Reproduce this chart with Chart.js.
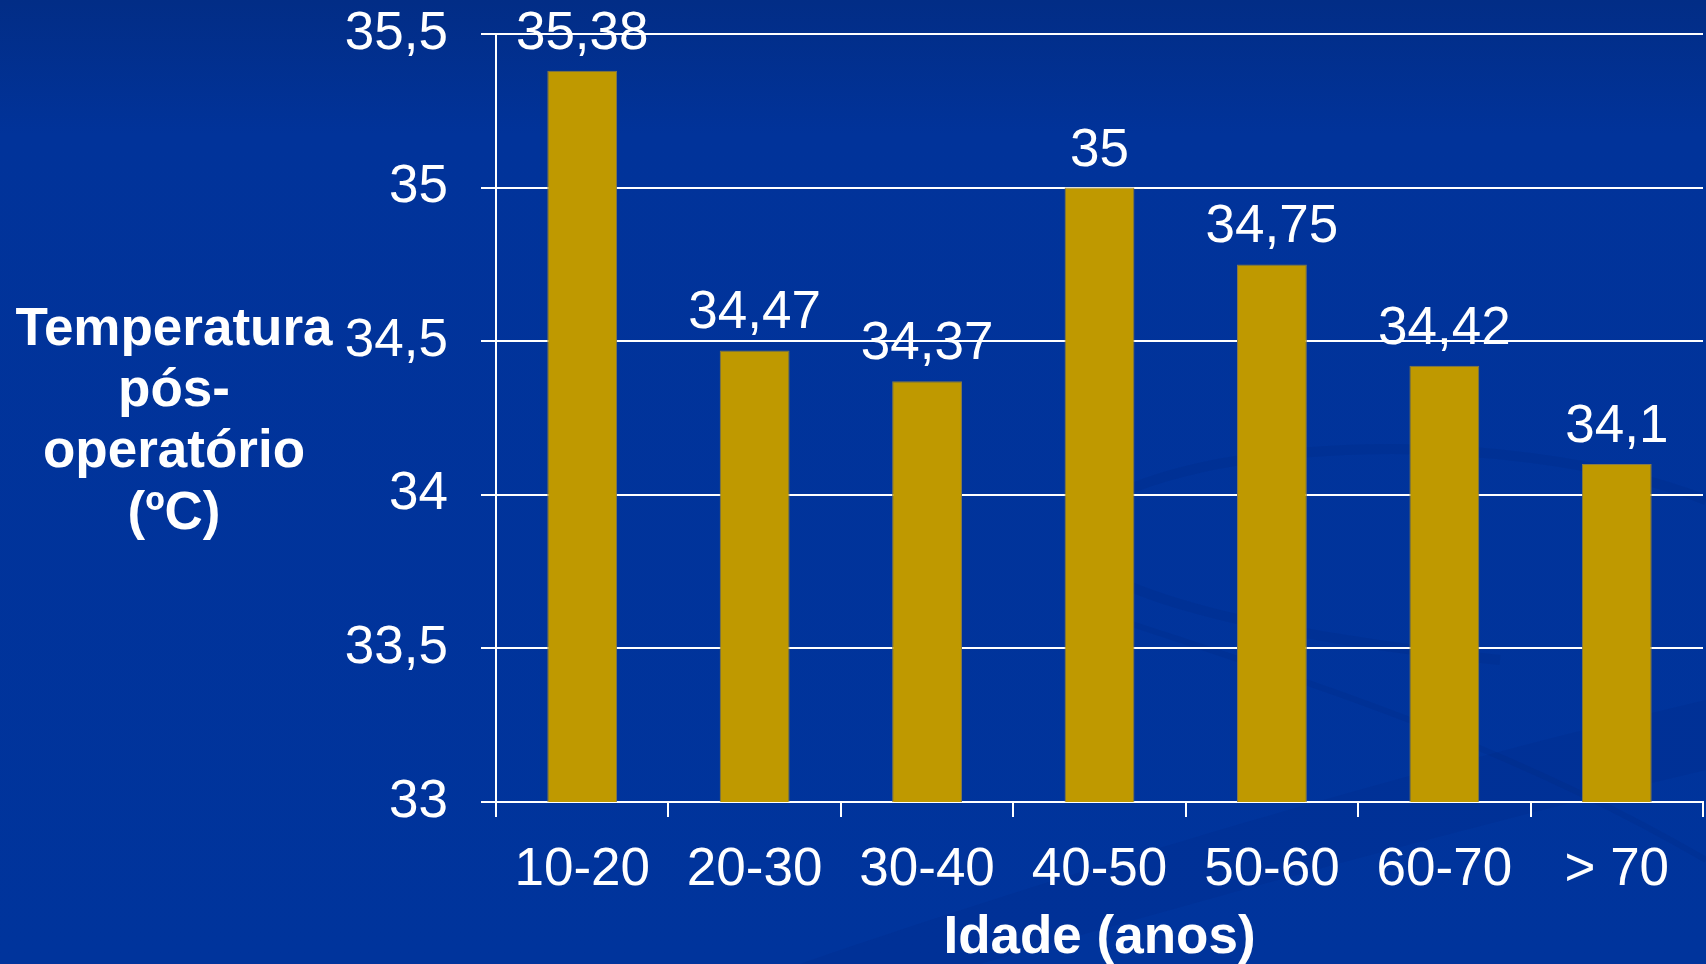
<!DOCTYPE html>
<html lang="pt">
<head>
<meta charset="utf-8">
<title>Temperatura pós-operatório por idade</title>
<script src="https://cdn.jsdelivr.net/npm/chart.js@4.4.1/dist/chart.umd.min.js"></script>
<style>
  html, body { margin: 0; padding: 0; background: #00339b; }
  #wrap { width: 1706px; height: 964px; position: relative; }
  canvas { display: block; }
</style>
</head>
<body>
<div id="wrap"><canvas id="chart" width="1706" height="964"></canvas></div>
<script>
// Age groups and mean post-operative temperature (ºC)
const categories = ['10-20', '20-30', '30-40', '40-50', '50-60', '60-70', '> 70'];
const temperatures = [35.38, 34.47, 34.37, 35, 34.75, 34.42, 34.1];
const yTickValues = [33, 33.5, 34, 34.5, 35, 35.5];
const yTitleLines = ['Temperatura', 'pós-', 'operatório', '(ºC)'];
const xTitle = 'Idade (anos)';

const FONT = '"Liberation Sans", Arial, Helvetica, sans-serif';
const WHITE = '#ffffff';

const fmt = v => String(v).replace('.', ',');

// Slide background: deep blue with darker top and faint swirl bands
const backgroundPlugin = {
  id: 'slideBackground',
  beforeDraw(chart) {
    const { ctx, width, height } = chart;
    ctx.save();
    const g = ctx.createLinearGradient(0, 0, 0, height);
    g.addColorStop(0, '#022d86');
    g.addColorStop(0.14, '#01339a');
    g.addColorStop(1, '#00349c');
    ctx.fillStyle = g;
    ctx.fillRect(0, 0, width, height);

    ctx.fillStyle = 'rgba(0, 30, 110, 0.10)';
    ctx.beginPath();
    ctx.moveTo(800, 964);
    ctx.bezierCurveTo(1100, 860, 1450, 760, 1706, 700);
    ctx.lineTo(1706, 770);
    ctx.bezierCurveTo(1450, 830, 1150, 915, 980, 964);
    ctx.closePath();
    ctx.fill();

    ctx.strokeStyle = 'rgba(0, 30, 110, 0.12)';
    ctx.lineWidth = 10;
    ctx.beginPath();
    ctx.moveTo(1706, 500);
    ctx.bezierCurveTo(1500, 420, 1160, 440, 1080, 520);
    ctx.bezierCurveTo(1030, 590, 1300, 640, 1500, 660);
    ctx.stroke();

    ctx.lineWidth = 6;
    ctx.beginPath();
    ctx.moveTo(1120, 620);
    ctx.bezierCurveTo(1300, 680, 1500, 740, 1706, 860);
    ctx.stroke();
    ctx.restore();
  }
};

// Value labels above each bar
const valueLabelPlugin = {
  id: 'valueLabels',
  afterDatasetsDraw(chart) {
    const { ctx } = chart;
    const meta = chart.getDatasetMeta(0);
    ctx.save();
    ctx.font = '53px ' + FONT;
    ctx.fillStyle = WHITE;
    ctx.textAlign = 'center';
    ctx.textBaseline = 'alphabetic';
    meta.data.forEach((bar, i) => {
      ctx.fillText(fmt(temperatures[i]), bar.x, bar.y - 22);
    });
    ctx.restore();
  }
};

// Axis titles: horizontal multi-line title on the left, bold title under the categories
const axisTitlePlugin = {
  id: 'axisTitles',
  afterDraw(chart) {
    const { ctx, chartArea } = chart;
    ctx.save();
    ctx.font = 'bold 53px ' + FONT;
    ctx.fillStyle = WHITE;
    ctx.textAlign = 'center';
    ctx.textBaseline = 'alphabetic';
    const lineGap = 61.2;
    yTitleLines.forEach((line, i) => {
      ctx.fillText(line, 174, 345 + i * lineGap);
    });
    ctx.fillText(xTitle, (chartArea.left + chartArea.right) / 2, 953);
    ctx.restore();
  }
};

new Chart(document.getElementById('chart'), {
  type: 'bar',
  data: {
    labels: categories,
    datasets: [{
      data: temperatures,
      backgroundColor: '#bf9900',
      borderColor: '#857a4a',
      borderWidth: 1,
      barPercentage: 0.81,
      categoryPercentage: 0.5
    }]
  },
  options: {
    responsive: false,
    animation: false,
    devicePixelRatio: 1,
    layout: { padding: { left: 0, right: 3, top: 34, bottom: 0 } },
    plugins: {
      legend: { display: false },
      tooltip: { enabled: false }
    },
    scales: {
      y: {
        min: 33,
        max: 35.5,
        afterBuildTicks(scale) {
          scale.ticks = yTickValues.map(v => ({ value: v }));
        },
        afterFit(scale) {
          scale.width = 496;
          scale.paddingTop = 0;
          scale.paddingBottom = 0;
        },
        ticks: {
          color: WHITE,
          font: { family: FONT, size: 53 },
          padding: 33,
          callback: v => fmt(v)
        },
        grid: {
          color: WHITE,
          lineWidth: 2,
          tickLength: 15,
          drawTicks: true
        },
        border: { display: true, color: WHITE, width: 2 }
      },
      x: {
        offset: true,
        afterFit(scale) {
          scale.height = 162;
          scale.paddingLeft = 0;
          scale.paddingRight = 0;
        },
        ticks: {
          color: WHITE,
          font: { family: FONT, size: 53 },
          padding: 22,
          maxRotation: 0,
          autoSkip: false
        },
        grid: {
          offset: true,
          drawOnChartArea: false,
          drawTicks: true,
          tickLength: 15,
          color: WHITE,
          lineWidth: 2
        },
        border: { display: true, color: WHITE, width: 2 },
        title: { display: false }
      }
    }
  },
  plugins: [backgroundPlugin, valueLabelPlugin, axisTitlePlugin]
});
</script>
</body>
</html>
